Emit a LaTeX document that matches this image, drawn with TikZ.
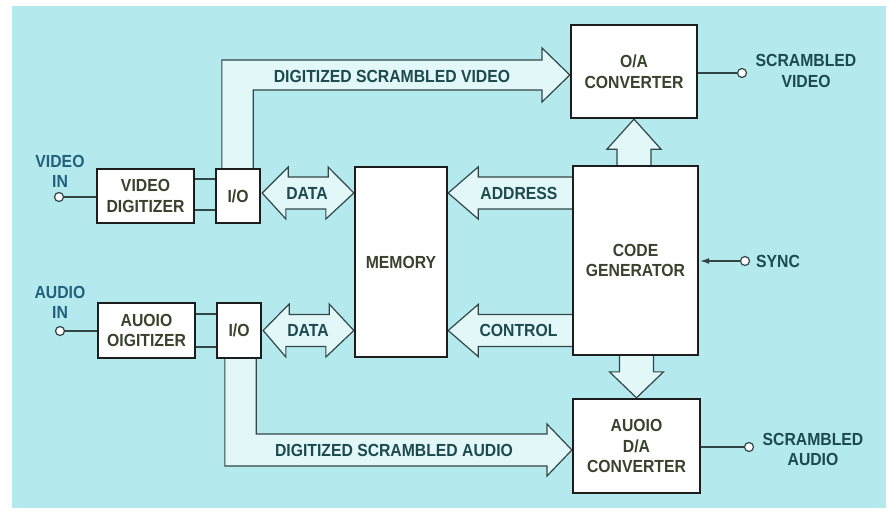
\documentclass[tikz,border=0pt]{standalone}
\usepackage{fontspec}
\usetikzlibrary{calc,arrows.meta}
\newfontfamily\labfont[FakeStretch=0.9]{Liberation Sans}
\definecolor{bgc}{RGB}{180,234,238}
\definecolor{fatfill}{RGB}{226,247,248}
\definecolor{linec}{RGB}{28,30,30}
\definecolor{arrc}{RGB}{50,70,70}
\definecolor{boxtxt}{RGB}{58,66,45}
\definecolor{labtxt}{RGB}{28,74,78}
\definecolor{intxt}{RGB}{36,96,124}
\pgfdeclarelayer{back}
\pgfdeclarelayer{mid}
\pgfsetlayers{back,mid,main}
\tikzset{
  blk/.style={draw=linec, line width=2.3pt, fill=white, inner sep=0pt, align=center, text=boxtxt},
  fat/.style={draw=arrc, line width=1.2pt, fill=fatfill, line join=miter},
  wire/.style={draw=arrc, line width=1.2pt},
  term/.style={circle, draw=arrc, line width=1.2pt, fill=white, minimum size=9pt, inner sep=0pt},
  lab/.style={text=labtxt, inner sep=0pt, align=center},
  inlab/.style={text=intxt, inner sep=0pt, align=center},
}
\begin{document}
\begin{tikzpicture}[x=1pt,y=-1pt, font=\labfont\bfseries\fontsize{17.5}{20.5}\selectfont]
\useasboundingbox (0,0) rectangle (889,511);
\begin{pgfonlayer}{back}
\fill[white] (0,0) rectangle (889,511);
\fill[bgc] (12,6) rectangle (886,508);
\end{pgfonlayer}

% blocks
\node[blk, minimum width=97pt, minimum height=54pt] (vdig) at (145.5,196) {VIDEO\\DIGITIZER};
\node[blk, minimum width=44pt, minimum height=54pt] (io1) at (238,196) {I/O};
\node[blk, minimum width=97pt, minimum height=55pt] (adig) at (146.5,330.5) {AUOIO\\OIGITIZER};
\node[blk, minimum width=44pt, minimum height=55pt] (io2) at (239,330.5) {I/O};
\node[blk, minimum width=92pt, minimum height=190pt] (mem) at (401,262) {MEMORY};
\node[blk, minimum width=126pt, minimum height=93pt] (da1) at (634,71.5) {O/A\\CONVERTER};
\node[blk, minimum width=125pt, minimum height=189pt] (cg) at (635.5,260.5) {CODE\\GENERATOR};
\node[blk, minimum width=127pt, minimum height=94pt] (da2) at (636.5,446) {AUOIO\\D/A\\CONVERTER};

% terminals
\node[term] (vin) at (59,197) {};
\node[term] (ain) at (60,331) {};
\node[term] (sync) at (745,261) {};
\node[term] (svo) at (742,73) {};
\node[term] (sao) at (749,447) {};

\coordinate (d1) at ($(io1.east)+(1,-3)$);
\coordinate (d2) at ($(io2.east)+(1,0)$);

\begin{pgfonlayer}{mid}
% video bus
\draw[fat] ($(io1.north west)+(7,0)$) |- (542,60) -- (542,48) -- ($(da1.west)+(0,3.5)$) -- (542,102) -- (542,90) -| ($(io1.north east)+(-8,0)$);
% audio bus
\draw[fat] ($(io2.south west)+(9,0)$) |- (547,466) -- (547,476) -- ($(da2.west)+(0,4)$) -- (547,424) -- (547,434) -| ($(io2.south east)+(-6,0)$);
% data arrows
\draw[fat] (d1) -- ++(26,-26) -- ++(0,10) -- ++(40,0) -- ++(0,-10) -- (mem.west |- d1) -- ++(-28,26) -- ++(0,-10) -- ++(-40,0) -- ++(0,10) -- cycle;
\draw[fat] (d2) -- ++(26,-26.5) -- ++(0,10.5) -- ++(40,0) -- ++(0,-10.5) -- (mem.west |- d2) -- ++(-28,26.5) -- ++(0,-10.5) -- ++(-40,0) -- ++(0,10.5) -- cycle;
% address / control
\draw[fat] (mem.east |- d1) -- ++(30,-26) -- ++(0,10) -- ++(97,0) -- ++(0,32) -- ++(-97,0) -- ++(0,10) -- cycle;
\draw[fat] (mem.east |- d2) -- ++(30,-26) -- ++(0,10) -- ++(97,0) -- ++(0,32) -- ++(-97,0) -- ++(0,10) -- cycle;
% code generator to converters
\draw[fat] (da1.south) -- ++(27,30) -- ++(-10,0) -- ++(0,19) -- ++(-34,0) -- ++(0,-19) -- ++(-10,0) -- cycle;
\draw[fat] (da2.north) -- ++(27,-26) -- ++(-10,0) -- ++(0,-19) -- ++(-34,0) -- ++(0,19) -- ++(-10,0) -- cycle;
\end{pgfonlayer}

% wires
\draw[wire] (vin) -- (vin -| vdig.west);
\draw[wire] (ain) -- (ain -| adig.west);
\draw[wire] ($(vdig.east)+(0,-17)$) -- ($(io1.west)+(0,-17)$);
\draw[wire] ($(vdig.east)+(0,14)$) -- ($(io1.west)+(0,14)$);
\draw[wire] ($(adig.east)+(0,-16.5)$) -- ($(io2.west)+(0,-16.5)$);
\draw[wire] ($(adig.east)+(0,16.5)$) -- ($(io2.west)+(0,16.5)$);
\draw[wire] (svo) -- (svo -| da1.east);
\draw[wire] (sao) -- (sao -| da2.east);
\draw[wire, -{Latex[length=9pt,width=6pt]}] (sync) -- ($(sync -| cg.east)+(1,0)$);

% labels
\node[inlab] (lvin) at (60,171.5) {VIDEO\\IN};
\node[inlab] (lain) at (60,302.5) {AUDIO\\IN};
\node[lab] (ldata1) at (307,193) {DATA};
\node[lab] (ldata2) at (308,330.5) {DATA};
\node[lab] (laddr) at (519,193) {ADDRESS};
\node[lab] (lctrl) at (518.5,330) {CONTROL};
\node[lab] (lvbus) at (392,76) {DIGITIZED SCRAMBLED VIDEO};
\node[lab] (labus) at (394,450) {DIGITIZED SCRAMBLED AUDIO};
\node[lab] (lsvo) at (806,71) {SCRAMBLED\\VIDEO};
\node[lab] (lsao) at (813,449.5) {SCRAMBLED\\AUDIO};
\node[lab, anchor=west] (lsync) at (756,261) {SYNC};
\end{tikzpicture}
\end{document}
